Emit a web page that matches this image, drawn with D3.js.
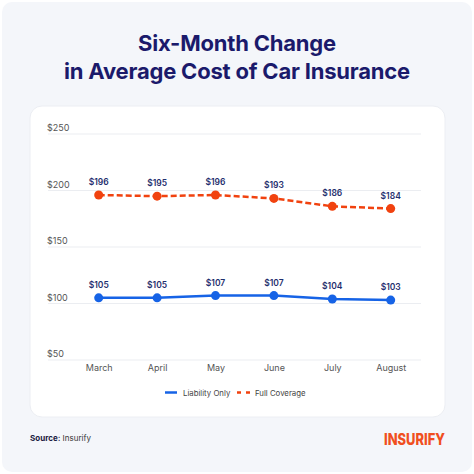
<!DOCTYPE html>
<html><head><meta charset="utf-8">
<script src="https://cdn.jsdelivr.net/npm/d3@7"></script>
<style>
html,body{margin:0;padding:0;background:#fff;}
text{font-family:Inter,"Noto Sans",sans-serif;}
</style></head>
<body>
<svg id="c" width="474" height="474"></svg>
<script>
const months = ["March","April","May","June","July","August"];
const liability = [105,105,107,107,104,103];
const fullCoverage = [196,195,196,193,186,184];
const yTicks = [50,100,150,200,250];
const titleLines = ["Six-Month Change","in Average Cost of Car Insurance"];

const svg = d3.select("#c");
const navy = "#1b1a6b", blue = "#1663e6", red = "#f1420f", lab = "#1f2f6e";

svg.append("rect").attr("x",2).attr("y",2).attr("width",470).attr("height",470).attr("rx",10).attr("fill","#f4f6fa");
svg.append("rect").attr("x",30).attr("y",106).attr("width",415).attr("height",311).attr("rx",12).attr("fill","#fff").attr("stroke","#eceef3");

svg.selectAll("text.title").data(titleLines).join("text").attr("class","title")
  .attr("x",237).attr("y",(d,i)=>51+i*28).attr("text-anchor","middle")
  .attr("font-size",22).attr("font-weight",700).attr("fill",navy).attr("letter-spacing",-0.2).text(d=>d);

const x = d3.scalePoint().domain(months).range([98.7,390.7]);
const y = d3.scaleLinear().domain([50,250]).range([360,134]);

const grid = svg.append("g");
grid.selectAll("line").data(yTicks).join("line")
  .attr("x1",48).attr("x2",421).attr("y1",d=>y(d)).attr("y2",d=>y(d))
  .attr("stroke","#ebedf1").attr("stroke-width",1);
grid.selectAll("text").data(yTicks).join("text")
  .attr("x",47).attr("y",d=>y(d)-3).attr("font-size",9).attr("fill","#555").text(d=>"$"+d);

const xAxis = d3.axisBottom(x).tickSize(0).tickPadding(0);
const xg = svg.append("g").attr("transform","translate(0,371)").call(xAxis);
xg.select(".domain").remove();
xg.selectAll("text").attr("font-size",9).attr("fill","#555").attr("font-family","Inter,'Noto Sans',sans-serif").attr("dy",0);

const line = d3.line().x((d,i)=>x(months[i])).y(d=>y(d));
function series(vals,color,dash){
  const g = svg.append("g");
  g.append("path").datum(vals).attr("d",line).attr("fill","none").attr("stroke",color)
    .attr("stroke-width",2.5).attr("stroke-dasharray",dash||null);
  g.selectAll("circle").data(vals).join("circle")
    .attr("cx",(d,i)=>x(months[i])).attr("cy",d=>y(d)).attr("r",4.5).attr("fill",color);
  g.selectAll("text").data(vals).join("text")
    .attr("x",(d,i)=>x(months[i])).attr("y",d=>y(d)-10).attr("text-anchor","middle")
    .attr("font-size",8.5).attr("font-weight",600).attr("fill",lab).text(d=>"$"+d);
}
series(fullCoverage,red,"6,3");
series(liability,blue);

const lg = svg.append("g");
lg.append("line").attr("x1",165).attr("x2",177).attr("y1",392.5).attr("y2",392.5).attr("stroke",blue).attr("stroke-width",2.5);
lg.append("text").attr("x",183).attr("y",395.5).attr("font-size",7.8).attr("fill","#444").text("Liability Only");
lg.append("line").attr("x1",237).attr("x2",250).attr("y1",392.5).attr("y2",392.5).attr("stroke",red).attr("stroke-width",2.5).attr("stroke-dasharray","4,5");
lg.append("text").attr("x",255).attr("y",395.5).attr("font-size",7.8).attr("fill","#444").text("Full Coverage");

const src = svg.append("text").attr("x",30).attr("y",441).attr("font-size",8).attr("fill","#333");
src.append("tspan").attr("font-weight",700).attr("fill","#1a1a40").text("Source:");
src.append("tspan").text(" Insurify");

svg.append("text").attr("x",384).attr("y",445).attr("font-size",16)
  .attr("font-weight",800).attr("fill","#f04e20")
  .attr("textLength",61).attr("lengthAdjust","spacingAndGlyphs").text("INSURIFY");
</script>
</body></html>
